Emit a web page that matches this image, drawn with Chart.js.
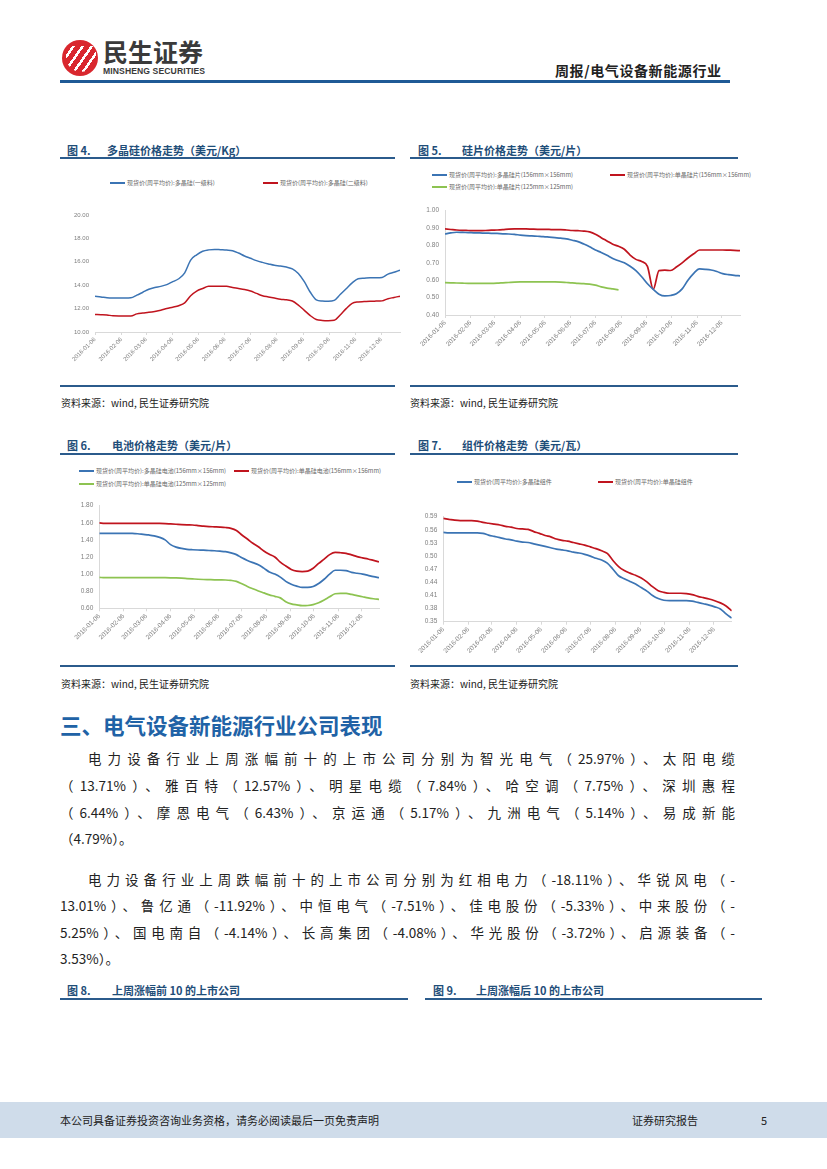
<!DOCTYPE html>
<html>
<head>
<meta charset="utf-8">
<script src="https://cdn.jsdelivr.net/npm/chart.js@4.4.0/dist/chart.umd.min.js"></script>
<style>
  html, body { margin: 0; padding: 0; background: #fff; }
  body { width: 827px; height: 1169px; position: relative; overflow: hidden;
         font-family: "Noto Sans CJK SC", "Liberation Sans", sans-serif; color: #222; }
  .abs { position: absolute; white-space: nowrap; }
  canvas { position: absolute; }
  .figt { font-size: 11px; font-weight: bold; color: #1f4e79; line-height: 14px; }
  .rule { position: absolute; height: 2px; background: #2b5b8c; }
  .src { font-size: 10px; line-height: 14px; color: #222; }
  .leg { position: absolute; font-size: 6px; line-height: 8px; color: #666; white-space: nowrap; }
  .leg i { display: inline-block; width: 15px; height: 2px; vertical-align: middle; margin-right: 2px; }
  .para { position: absolute; left: 60px; width: 675px; font-size: 13.5px; line-height: 18px;
          text-align: justify; text-align-last: justify; white-space: nowrap; color: #222; }
</style>
</head>
<body>

<!-- header -->
<div class="abs" style="left:62px;top:40px;width:36px;height:36px;border-radius:50%;background:#d9272e;overflow:hidden;">
  <div style="position:absolute;left:4px;top:6px;width:30px;height:26px;background:repeating-linear-gradient(125deg, transparent 0 5px, #fff 5px 7.5px);border-radius:0 0 18px 18px;"></div>
</div>
<div class="abs" style="left:103px;top:36px;font-size:25px;font-weight:bold;color:#3a3a3a;line-height:30px;">民生证券</div>
<div class="abs" style="left:103px;top:66px;font-family:'Liberation Sans';font-size:8.6px;font-weight:bold;color:#3a3a3a;line-height:10px;letter-spacing:0.1px;">MINSHENG SECURITIES</div>
<div class="abs" style="left:555px;top:61px;font-size:14px;font-weight:bold;color:#222;line-height:18px;letter-spacing:0.6px;">周报/电气设备新能源行业</div>
<div class="rule" style="left:60px;top:80px;width:670px;height:2.5px;background:#1f5a96;"></div>

<!-- figure 4 / 5 titles -->
<div class="abs figt" style="left:67px;top:143px;">图 4.</div>
<div class="abs figt" style="left:107px;top:143px;">多晶硅价格走势（美元/Kg）</div>
<div class="rule" style="left:60px;top:157px;width:335px;"></div>
<div class="abs figt" style="left:418px;top:143px;">图 5.</div>
<div class="abs figt" style="left:462px;top:143px;">硅片价格走势（美元/片）</div>
<div class="rule" style="left:410px;top:157px;width:328px;"></div>

<div class="leg" style="left:110px;top:179px;"><i style="background:#3b74b4"></i>现货价(周平均价):多晶硅(一级料)</div>
<div class="leg" style="left:263px;top:179px;"><i style="background:#c0141e"></i>现货价(周平均价):多晶硅(二级料)</div>

<div class="leg" style="left:432px;top:171px;"><i style="background:#3b74b4"></i>现货价(周平均价):多晶硅片(156mm×156mm)</div>
<div class="leg" style="left:610px;top:171px;"><i style="background:#c0141e"></i>现货价(周平均价):单晶硅片(156mm×156mm)</div>
<div class="leg" style="left:432px;top:183px;"><i style="background:#8dc351"></i>现货价(周平均价):单晶硅片(125mm×125mm)</div>

<canvas id="c4" width="345" height="175" style="left:60px;top:195px;width:345px;height:175px;"></canvas>
<canvas id="c5" width="335" height="160" style="left:410px;top:195px;width:335px;height:160px;"></canvas>

<div class="rule" style="left:60px;top:385px;width:335px;"></div>
<div class="rule" style="left:410px;top:385px;width:328px;"></div>
<div class="abs src" style="left:61px;top:396px;">资料来源：wind, 民生证券研究院</div>
<div class="abs src" style="left:410px;top:396px;">资料来源：wind, 民生证券研究院</div>

<!-- figure 6 / 7 titles -->
<div class="abs figt" style="left:67px;top:438px;">图 6.</div>
<div class="abs figt" style="left:112px;top:438px;">电池价格走势（美元/片）</div>
<div class="rule" style="left:60px;top:453px;width:335px;"></div>
<div class="abs figt" style="left:418px;top:438px;">图 7.</div>
<div class="abs figt" style="left:462px;top:438px;">组件价格走势（美元/瓦）</div>
<div class="rule" style="left:410px;top:453px;width:328px;"></div>

<div class="leg" style="left:79px;top:467px;"><i style="background:#3b74b4"></i>现货价(周平均价):多晶硅电池(156mm×156mm)</div>
<div class="leg" style="left:234px;top:467px;"><i style="background:#c0141e"></i>现货价(周平均价):单晶硅电池(156mm×156mm)</div>
<div class="leg" style="left:79px;top:480px;"><i style="background:#8dc351"></i>现货价(周平均价):单晶硅电池(125mm×125mm)</div>

<div class="leg" style="left:457px;top:478px;"><i style="background:#3b74b4"></i>现货价(周平均价):多晶硅组件</div>
<div class="leg" style="left:598px;top:478px;"><i style="background:#c0141e"></i>现货价(周平均价):单晶硅组件</div>

<canvas id="c6" width="330" height="155" style="left:60px;top:490px;width:330px;height:155px;"></canvas>
<canvas id="c7" width="335" height="160" style="left:410px;top:500px;width:335px;height:160px;"></canvas>

<div class="rule" style="left:60px;top:665px;width:335px;"></div>
<div class="rule" style="left:410px;top:665px;width:328px;"></div>
<div class="abs src" style="left:61px;top:677px;">资料来源：wind, 民生证券研究院</div>
<div class="abs src" style="left:410px;top:677px;">资料来源：wind, 民生证券研究院</div>

<!-- section text -->
<div class="abs" style="left:60px;top:711px;font-size:21.5px;font-weight:bold;color:#2062a6;line-height:28px;">三、电气设备新能源行业公司表现</div>

<div class="para" style="top:749px;left:88px;width:647px;">电力设备行业上周涨幅前十的上市公司分别为智光电气（25.97%）、太阳电缆</div>
<div class="para" style="top:776px;">（13.71%）、雅百特（12.57%）、明星电缆（7.84%）、哈空调（7.75%）、深圳惠程</div>
<div class="para" style="top:803px;">（6.44%）、摩恩电气（6.43%）、京运通（5.17%）、九洲电气（5.14%）、易成新能</div>
<div class="para" style="top:829px;text-align-last:left;">（4.79%）。</div>

<div class="para" style="top:870px;left:88px;width:647px;">电力设备行业上周跌幅前十的上市公司分别为红相电力（-18.11%）、华锐风电（-</div>
<div class="para" style="top:896px;">13.01%）、鲁亿通（-11.92%）、中恒电气（-7.51%）、佳电股份（-5.33%）、中来股份（-</div>
<div class="para" style="top:923px;">5.25%）、国电南自（-4.14%）、长高集团（-4.08%）、华光股份（-3.72%）、启源装备（-</div>
<div class="para" style="top:949px;text-align-last:left;">3.53%）。</div>

<div class="abs figt" style="left:67px;top:983px;">图 8.</div>
<div class="abs figt" style="left:112px;top:983px;">上周涨幅前 10 的上市公司</div>
<div class="rule" style="left:60px;top:998px;width:348px;"></div>
<div class="abs figt" style="left:433px;top:983px;">图 9.</div>
<div class="abs figt" style="left:476px;top:983px;">上周涨幅后 10 的上市公司</div>
<div class="rule" style="left:425px;top:998px;width:337px;"></div>

<!-- footer -->
<div class="abs" style="left:0;top:1102px;width:827px;height:36px;background:#cfdcea;"></div>
<div class="abs" style="left:60px;top:1112px;font-size:11px;line-height:16px;color:#222;">本公司具备证券投资咨询业务资格，请务必阅读最后一页免责声明</div>
<div class="abs" style="left:632px;top:1112px;font-size:11px;line-height:16px;color:#222;">证券研究报告</div>
<div class="abs" style="left:761px;top:1112px;font-size:11px;line-height:16px;color:#222;">5</div>

<script>
// x axis: days from 2016-01-06, tick labels on the 6th of each month
const monthDays = [0, 31, 60, 91, 121, 152, 182, 213, 244, 274, 305, 335];
const monthLabels = ['2016-01-06', '2016-02-06', '2016-03-06', '2016-04-06', '2016-05-06', '2016-06-06',
                     '2016-07-06', '2016-08-06', '2016-09-06', '2016-10-06', '2016-11-06', '2016-12-06'];
// weekly observations, one every 7 days starting 2016-01-06
const weekDays = Array.from({ length: 52 }, (_, i) => i * 7);

// 图4 多晶硅 (美元/Kg)
const polyGrade1 = [13.06, 13.0, 12.92, 12.9, 12.9, 12.9, 12.92, 13.15, 13.4, 13.65,
  13.8, 13.9, 14.05, 14.3, 14.55, 15.06, 16.15, 16.6, 16.9, 17.02,
  17.06, 17.03, 17.0, 16.95, 16.75, 16.5, 16.3, 16.1, 15.95, 15.82,
  15.7, 15.65, 15.55, 15.4, 15.0, 14.3, 13.4, 12.75, 12.65, 12.63,
  12.7, 13.2, 13.7, 14.2, 14.55, 14.6, 14.63, 14.63, 14.66, 14.95,
  15.1, 15.29];
const polyGrade2 = [11.49, 11.48, 11.46, 11.38, 11.37, 11.37, 11.37, 11.55, 11.62, 11.68,
  11.76, 11.86, 12.0, 12.12, 12.25, 12.49, 13.1, 13.5, 13.72, 13.9,
  13.91, 13.91, 13.9, 13.8, 13.72, 13.63, 13.5, 13.3, 13.1, 13.0,
  12.9, 12.8, 12.75, 12.65, 12.3, 11.85, 11.4, 11.07, 10.99, 10.97,
  11.0, 11.45, 12.0, 12.45, 12.57, 12.6, 12.63, 12.64, 12.66, 12.85,
  12.95, 13.06];

// 图5 硅片 (美元/片)
const waferMulti156 = [0.866, 0.872, 0.876, 0.875, 0.874, 0.873, 0.872, 0.871, 0.870, 0.869,
  0.867, 0.866, 0.864, 0.860, 0.857, 0.855, 0.853, 0.851, 0.848, 0.845,
  0.842, 0.838, 0.830, 0.822, 0.808, 0.792, 0.774, 0.760, 0.744, 0.725,
  0.712, 0.700, 0.680, 0.655, 0.620, 0.580, 0.548, 0.520, 0.510, 0.512,
  0.522, 0.550, 0.600, 0.640, 0.665, 0.663, 0.659, 0.650, 0.638, 0.632,
  0.628, 0.625];
const waferMono156 = [0.895, 0.892, 0.889, 0.887, 0.886, 0.885, 0.885, 0.886, 0.888, 0.889,
  0.891, 0.894, 0.895, 0.895, 0.895, 0.894, 0.893, 0.893, 0.892, 0.891,
  0.891, 0.889, 0.886, 0.885, 0.883, 0.878, 0.865, 0.845, 0.826, 0.807,
  0.795, 0.778, 0.745, 0.720, 0.708, 0.680, 0.548, 0.655, 0.658, 0.656,
  0.676, 0.700, 0.728, 0.752, 0.774, 0.774, 0.774, 0.774, 0.774, 0.773,
  0.772, 0.770];
const waferMono125 = [0.586, 0.585, 0.584, 0.583, 0.582, 0.582, 0.582, 0.582, 0.582, 0.583,
  0.585, 0.587, 0.589, 0.590, 0.590, 0.590, 0.590, 0.590, 0.590, 0.590,
  0.589, 0.587, 0.585, 0.582, 0.580, 0.578, 0.572, 0.562, 0.555, 0.550,
  0.545];

// 图6 电池 (美元/片)
const cellMulti156 = [1.477, 1.477, 1.477, 1.477, 1.477, 1.477, 1.476, 1.472, 1.465, 1.458,
  1.448, 1.430, 1.400, 1.345, 1.316, 1.300, 1.290, 1.285, 1.282, 1.280,
  1.276, 1.273, 1.268, 1.262, 1.248, 1.228, 1.190, 1.160, 1.134, 1.110,
  1.070, 1.025, 1.000, 0.965, 0.915, 0.882, 0.860, 0.845, 0.845, 0.855,
  0.890, 0.940, 1.000, 1.045, 1.045, 1.040, 1.020, 1.010, 1.000, 0.985,
  0.970, 0.958];
const cellMono156 = [1.600, 1.593, 1.593, 1.593, 1.593, 1.593, 1.593, 1.593, 1.593, 1.593,
  1.593, 1.593, 1.591, 1.587, 1.583, 1.579, 1.576, 1.574, 1.568, 1.561,
  1.556, 1.553, 1.550, 1.545, 1.535, 1.510, 1.457, 1.410, 1.360, 1.320,
  1.270, 1.232, 1.200, 1.140, 1.095, 1.055, 1.035, 1.030, 1.035, 1.068,
  1.125, 1.175, 1.228, 1.254, 1.250, 1.243, 1.225, 1.205, 1.190, 1.177,
  1.160, 1.143];
const cellMono125 = [0.962, 0.958, 0.958, 0.958, 0.958, 0.958, 0.958, 0.958, 0.958, 0.958,
  0.958, 0.958, 0.958, 0.957, 0.955, 0.952, 0.948, 0.944, 0.940, 0.937,
  0.935, 0.933, 0.932, 0.931, 0.926, 0.915, 0.887, 0.855, 0.828, 0.803,
  0.780, 0.757, 0.740, 0.722, 0.678, 0.652, 0.640, 0.631, 0.633, 0.643,
  0.665, 0.697, 0.735, 0.770, 0.775, 0.774, 0.762, 0.748, 0.735, 0.722,
  0.712, 0.704];

// 图7 组件 (美元/瓦)
const moduleMulti = [0.554, 0.553, 0.553, 0.553, 0.553, 0.553, 0.553, 0.552, 0.548, 0.545,
  0.542, 0.539, 0.537, 0.534, 0.532, 0.531, 0.528, 0.525, 0.522, 0.519,
  0.516, 0.514, 0.512, 0.509, 0.507, 0.504, 0.500, 0.495, 0.491, 0.484,
  0.470, 0.455, 0.448, 0.442, 0.436, 0.428, 0.420, 0.410, 0.403, 0.399,
  0.398, 0.398, 0.398, 0.398, 0.397, 0.394, 0.391, 0.388, 0.384, 0.379,
  0.368, 0.358];
const moduleMono = [0.586, 0.584, 0.582, 0.581, 0.581, 0.581, 0.580, 0.577, 0.575, 0.573,
  0.571, 0.568, 0.566, 0.563, 0.562, 0.561, 0.556, 0.552, 0.547, 0.544,
  0.539, 0.536, 0.534, 0.531, 0.528, 0.525, 0.521, 0.517, 0.512, 0.506,
  0.490, 0.476, 0.467, 0.461, 0.456, 0.450, 0.441, 0.430, 0.421, 0.417,
  0.415, 0.415, 0.415, 0.414, 0.412, 0.408, 0.405, 0.402, 0.398, 0.393,
  0.386, 0.375];

const BLUE = '#3b74b4';
const RED = '#c0141e';
const GREEN = '#8dc351';

function toPoints(values) {
  return values.map((v, i) => ({ x: weekDays[i], y: v }));
}

function priceChart(id, series, y, box) {
  const ctx = document.getElementById(id).getContext('2d');
  return new Chart(ctx, {
    type: 'line',
    data: {
      datasets: series.map(s => ({
        label: s.label,
        data: toPoints(s.values),
        borderColor: s.color,
        borderWidth: box.lw || 1.7,
        pointRadius: 0,
        fill: false,
        cubicInterpolationMode: 'monotone'
      }))
    },
    options: {
      responsive: false,
      animation: false,
      layout: { padding: box.padding },
      plugins: { legend: { display: false }, tooltip: { enabled: false } },
      scales: {
        x: {
          type: 'linear',
          min: 0,
          max: 357,
          afterBuildTicks: s => { s.ticks = monthDays.map(v => ({ value: v })); },
          afterFit: s => { s.height = box.xh; },
          ticks: {
            autoSkip: false,
            minRotation: 45,
            maxRotation: 45,
            padding: 1,
            color: '#7f7f7f',
            font: { family: 'Liberation Sans', size: box.fs },
            callback: v => monthLabels[monthDays.indexOf(v)]
          },
          grid: { drawOnChartArea: false, tickLength: 3, color: '#d9d9d9' },
          border: { color: '#d9d9d9' }
        },
        y: {
          min: y.min,
          max: y.max,
          afterFit: s => { s.width = box.yw; },
          ticks: {
            stepSize: y.step,
            padding: 6,
            color: '#7f7f7f',
            font: { family: 'Liberation Sans', size: box.fs },
            callback: v => v.toFixed(2)
          },
          grid: { display: false, drawTicks: false },
          border: { display: box.yBorder, color: '#d9d9d9' }
        }
      }
    }
  });
}

priceChart('c4', [
  { label: '现货价(周平均价):多晶硅(一级料)', values: polyGrade1, color: BLUE },
  { label: '现货价(周平均价):多晶硅(二级料)', values: polyGrade2, color: RED }
], { min: 10, max: 20, step: 2 },
{ padding: { left: 5, right: 5, top: 20, bottom: 3 }, yw: 30, xh: 35, fs: 6, yBorder: false, lw: 1.5 });

priceChart('c5', [
  { label: '现货价(周平均价):多晶硅片(156mm×156mm)', values: waferMulti156, color: BLUE },
  { label: '现货价(周平均价):单晶硅片(156mm×156mm)', values: waferMono156, color: RED },
  { label: '现货价(周平均价):单晶硅片(125mm×125mm)', values: waferMono125, color: GREEN }
], { min: 0.4, max: 1.0, step: 0.1 },
{ padding: { left: 5, right: 5, top: 15.7, bottom: 3 }, yw: 30, xh: 37, fs: 6.5, yBorder: true });

priceChart('c6', [
  { label: '现货价(周平均价):多晶硅电池(156mm×156mm)', values: cellMulti156, color: BLUE },
  { label: '现货价(周平均价):单晶硅电池(156mm×156mm)', values: cellMono156, color: RED },
  { label: '现货价(周平均价):单晶硅电池(125mm×125mm)', values: cellMono125, color: GREEN }
], { min: 0.6, max: 1.8, step: 0.2 },
{ padding: { left: 5, right: 11, top: 15.7, bottom: 2.7 }, yw: 34.3, xh: 34, fs: 6.5, yBorder: true });

priceChart('c7', [
  { label: '现货价(周平均价):多晶硅组件', values: moduleMulti, color: BLUE },
  { label: '现货价(周平均价):单晶硅组件', values: moduleMono, color: RED }
], { min: 0.35, max: 0.59, step: 0.03 },
{ padding: { left: 5, right: 13.3, top: 16.7, bottom: 3.3 }, yw: 28.3, xh: 35, fs: 6.5, yBorder: true });
</script>
</body>
</html>
